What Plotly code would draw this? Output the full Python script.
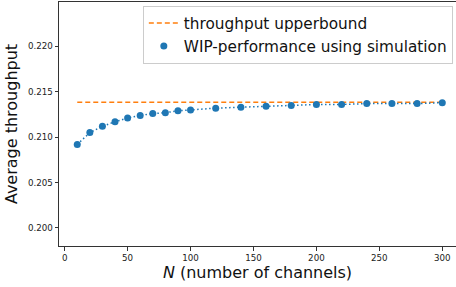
import plotly.graph_objects as go

channels = [10, 20, 30, 40, 50, 60, 70, 80, 90, 100,
            120, 140, 160, 180, 200, 220, 240, 260, 280, 300]
wip_throughput = [0.2092, 0.2105, 0.2112, 0.2117, 0.2121, 0.2124, 0.2126, 0.2127, 0.2129, 0.2130,
                  0.2132, 0.2133, 0.2134, 0.2135, 0.2136, 0.2136, 0.2137, 0.2137, 0.2137, 0.2138]
upperbound_x = [10, 300]
upperbound_y = [0.21385, 0.21385]

blue = "#1f77b4"
orange = "#ff7f0e"

fig = go.Figure()
fig.add_trace(go.Scatter(
    x=upperbound_x, y=upperbound_y, mode="lines",
    line=dict(color=orange, width=1.5, dash="5px,3px"),
    name="throughput upperbound"))
fig.add_trace(go.Scatter(
    x=channels, y=wip_throughput, mode="lines",
    line=dict(color=blue, width=1.5, dash="1.5px,2.5px"),
    showlegend=False, hoverinfo="skip"))
fig.add_trace(go.Scatter(
    x=channels, y=wip_throughput, mode="markers",
    marker=dict(color=blue, size=7, line=dict(width=0)),
    name="WIP-performance using simulation"))

axis_common = dict(
    showgrid=False, zeroline=False, showline=True, linecolor="#333", linewidth=1,
    ticks="outside", ticklen=3.5, tickwidth=0.8, tickcolor="#333",
    tickfont=dict(family="DejaVu Sans", size=8.7, color="#222"),
    automargin=False,
)

fig.update_layout(
    width=456, height=287,
    margin=dict(l=59, r=0, t=2, b=41),
    paper_bgcolor="white", plot_bgcolor="white",
    font=dict(family="DejaVu Sans", color="#111"),
    xaxis=dict(range=[-4.5, 310.9], tickvals=[0, 50, 100, 150, 200, 250, 300],
               mirror=True,
               title=dict(text="<i>N</i> (number of channels)", font=dict(size=16), standoff=4),
               **axis_common),
    yaxis=dict(range=[0.198, 0.2249], tickvals=[0.200, 0.205, 0.210, 0.215, 0.220],
               tickformat=".3f",
               title=dict(text="Average throughput", font=dict(size=16), standoff=6),
               **axis_common),
    legend=dict(x=0.992, y=0.985, xanchor="right", yanchor="top",
                bgcolor="rgba(255,255,255,0.8)", bordercolor="#cccccc", borderwidth=1,
                font=dict(family="DejaVu Sans", size=15.3, color="#111"),
                itemwidth=30),
    showlegend=True,
)

fig.write_html("out.html", config={"displayModeBar": False},
               post_script="document.body.style.margin='0';document.body.style.overflow='hidden';")
